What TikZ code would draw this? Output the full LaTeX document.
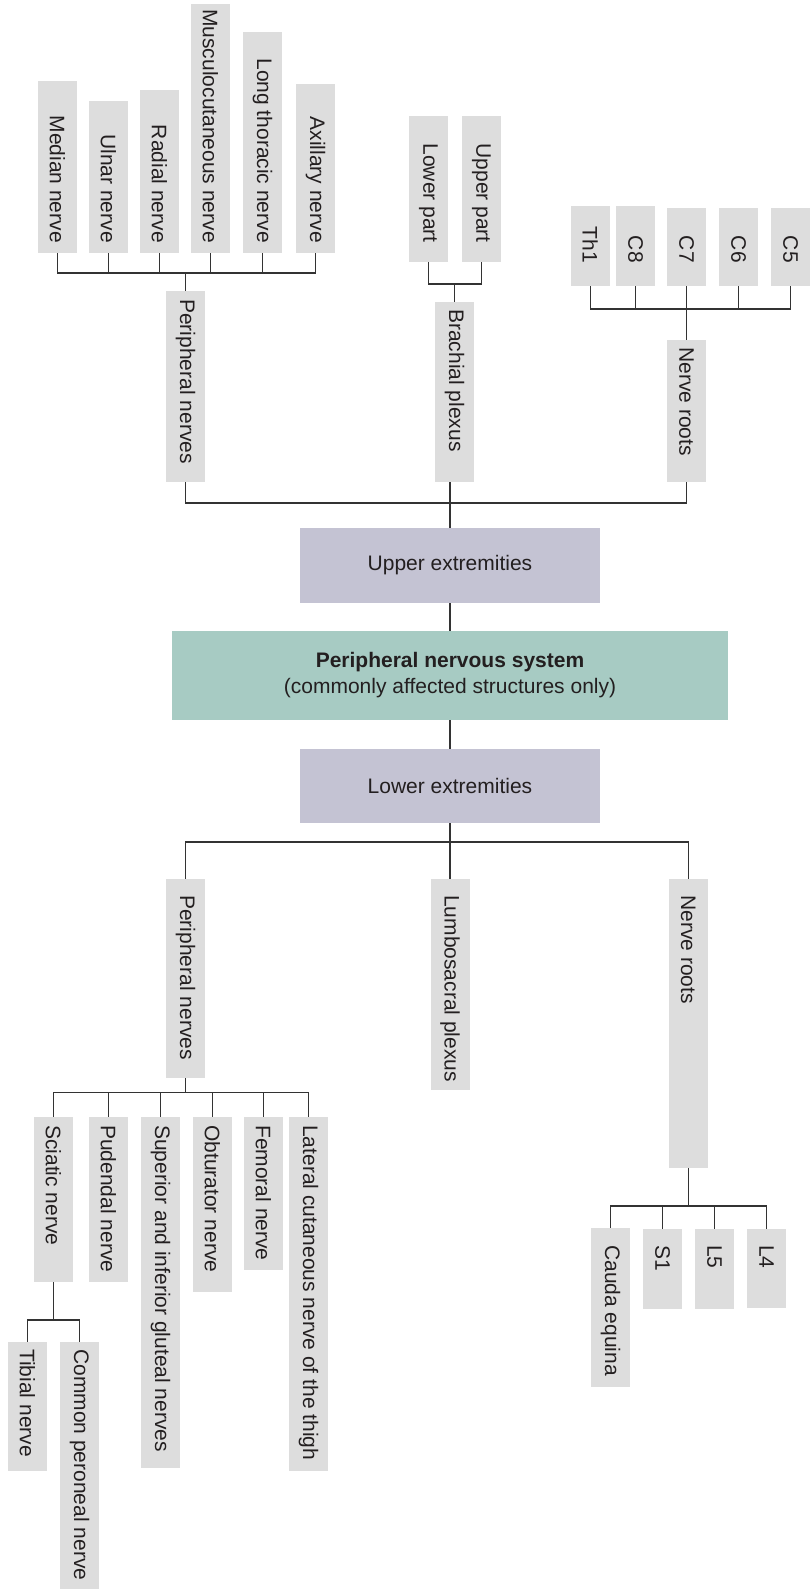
\documentclass[tikz,border=0pt]{standalone}
\usepackage{fontspec}
\setmainfont{Liberation Sans}
\definecolor{boxgray}{HTML}{DDDDDD}
\definecolor{boxlav}{HTML}{C4C3D3}
\definecolor{boxteal}{HTML}{A7CBC3}
\definecolor{ink}{HTML}{231F20}
\definecolor{wire}{HTML}{333333}
% #1 name, #2 centre x, #3 top, #4 bottom, #5 text anchor, #6 text y, #7 text
\newcommand\VBx[7]{%
  \node[gbox, minimum height={(#4)-(#3)}] (#1) at (#2,{((#3)+(#4))/2}) {};
  \node[vtxt, anchor=#5] (#1t) at (#2,#6) {#7};
}
\begin{document}
\begin{tikzpicture}[x=1pt, y=-1pt,
  gbox/.style={fill=boxgray, minimum width=39pt, inner sep=0pt},
  vtxt/.style={rotate=-90, inner sep=0pt, text=ink, font=\fontsize{21}{26}\selectfont},
  hbox/.style={inner sep=0pt, text=ink, font=\fontsize{21}{26}\selectfont},
  conn/.style={draw=wire, line width=1.3pt}]
\fill[white] (0,0) rectangle (811,1589);
\useasboundingbox (0,0) rectangle (811,1589);

% ---------- upper extremities: peripheral nerves leaves
\VBx{med}{57.5}{81}{253}{east}{243}{Median nerve}
\VBx{uln}{108.5}{101}{253}{east}{243}{Ulnar nerve}
\VBx{rad}{159.5}{90}{253}{east}{243}{Radial nerve}
\VBx{mus}{210.5}{4}{253}{east}{243}{Musculocutaneous nerve}
\VBx{lon}{262.5}{32}{253}{east}{243}{Long thoracic nerve}
\VBx{axi}{315.5}{84}{253}{east}{243}{Axillary nerve}
% brachial plexus leaves
\VBx{lowp}{428.5}{116}{262}{east}{243}{Lower part}
\VBx{upp}{481.5}{116}{262}{east}{243}{Upper part}
% nerve roots leaves
\VBx{th1}{590.3}{206}{286}{east}{263}{Th1}
\VBx{c8}{635.5}{206}{286}{east}{263}{C8}
\VBx{c7}{686.5}{208}{286}{east}{263}{C7}
\VBx{c6}{738.5}{208}{286}{east}{263}{C6}
\VBx{c5}{790.5}{208}{286}{east}{263}{C5}
% upper middle level
\VBx{pnU}{185.5}{291}{482}{west}{299}{Peripheral nerves}
\VBx{brach}{454.5}{302}{482}{west}{309}{Brachial plexus}
\VBx{nrU}{686.5}{340}{482}{west}{347}{Nerve roots}

% ---------- central boxes
\node[hbox, fill=boxlav, minimum width=300pt, minimum height=75pt] (UE) at (450,565.5) {Upper extremities};
\node[hbox, fill=boxteal, minimum width=556pt, minimum height=89pt, align=center] (pns) at (450,675.5)
  {\textbf{Peripheral nervous system}\\(commonly affected structures only)};
\node[hbox, fill=boxlav, minimum width=300pt, minimum height=74pt] (LE) at (450,786) {Lower extremities};

% ---------- lower middle level
\VBx{pnL}{185.5}{879}{1078}{west}{895}{Peripheral nerves}
\VBx{lumbo}{450}{879}{1090}{west}{895}{Lumbosacral plexus}
\VBx{nrL}{688.3}{879}{1168}{west}{895}{Nerve roots}
% lower peripheral nerve leaves
\VBx{sci}{53.5}{1117}{1282}{west}{1125}{Sciatic nerve}
\VBx{pud}{108.5}{1117}{1282}{west}{1125}{Pudendal nerve}
\VBx{sup}{160.5}{1117}{1468}{west}{1125}{Superior and inferior gluteal nerves}
\VBx{obt}{212.5}{1117}{1292}{west}{1125}{Obturator nerve}
\VBx{fem}{263.5}{1117}{1270}{west}{1125}{Femoral nerve}
\VBx{lat}{308.5}{1117}{1471}{west}{1125}{Lateral cutaneous nerve of the thigh}
% sciatic branches
\VBx{tib}{27.5}{1342}{1471}{west}{1349}{Tibial nerve}
\VBx{com}{79.5}{1342}{1589}{west}{1349}{Common peroneal nerve}
% lower nerve roots leaves
\VBx{cau}{610.5}{1228}{1387}{west}{1245}{Cauda equina}
\VBx{s1}{662.5}{1229}{1309}{west}{1245}{S1}
\VBx{l5}{714.5}{1229}{1309}{west}{1245}{L5}
\VBx{l4}{766.5}{1229}{1308}{west}{1245}{L4}

% ---------- bus coordinates
\coordinate (busA) at (0,273);
\coordinate (busB) at (0,284);
\coordinate (busC) at (0,309);
\coordinate (busD) at (0,503);
\coordinate (busE) at (0,842);
\coordinate (busF) at (0,1092.5);
\coordinate (busG) at (0,1320);
\coordinate (busH) at (0,1206);

% ---------- connectors
\draw[conn] (med.south) |- (axi.south |- busA) -- (axi.south);
\foreach \n in {uln,rad,mus,lon} \draw[conn] (\n.south) -- (\n.south |- busA);
\draw[conn] (pnU.north) -- (pnU.north |- busA);

\draw[conn] (lowp.south) |- (upp.south |- busB) -- (upp.south);
\draw[conn] (brach.north) -- (brach.north |- busB);

\draw[conn] (th1.south) |- (c5.south |- busC) -- (c5.south);
\foreach \n in {c8,c7,c6} \draw[conn] (\n.south) -- (\n.south |- busC);
\draw[conn] (nrU.north) -- (nrU.north |- busC);

\draw[conn] (pnU.south) |- (nrU.south |- busD) -- (nrU.south);
\draw[conn] (UE.north |- brach.south) -- (UE.north);
\draw[conn] (UE.south) -- (pns.north);
\draw[conn] (pns.south) -- (LE.north);

\draw[conn] (LE.south) -- (lumbo.north);
\draw[conn] (pnL.north) |- (nrL.north |- busE) -- (nrL.north);

\draw[conn] (sci.north) |- (lat.north |- busF) -- (lat.north);
\foreach \n in {pud,sup,obt,fem} \draw[conn] (\n.north) -- (\n.north |- busF);
\draw[conn] (pnL.south) -- (pnL.south |- busF);

\draw[conn] (tib.north) |- (com.north |- busG) -- (com.north);
\draw[conn] (sci.south) -- (sci.south |- busG);

\draw[conn] (cau.north) |- (l4.north |- busH) -- (l4.north);
\foreach \n in {s1,l5} \draw[conn] (\n.north) -- (\n.north |- busH);
\draw[conn] (nrL.south) -- (nrL.south |- busH);
\end{tikzpicture}
\end{document}
